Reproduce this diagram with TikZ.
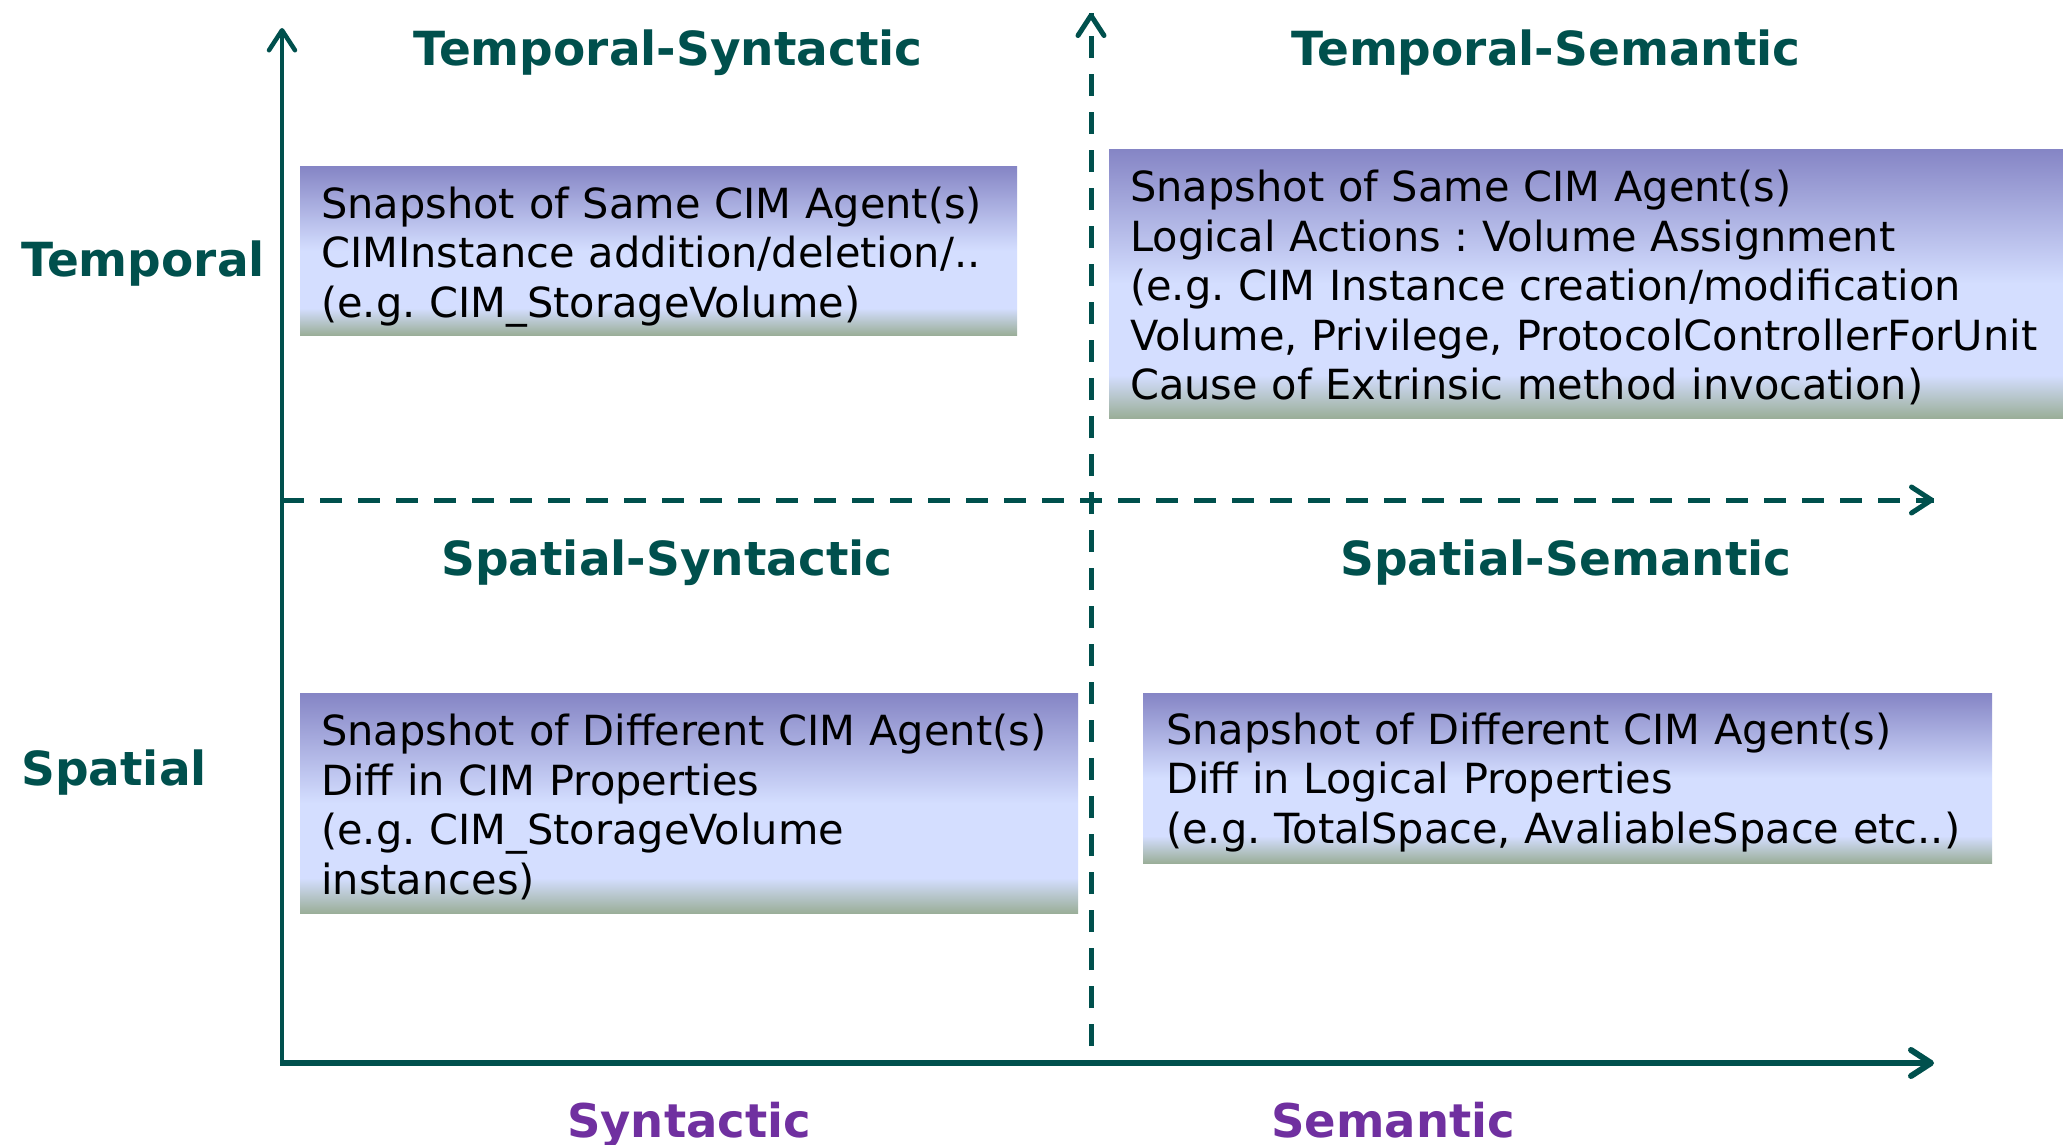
\documentclass[tikz,border=0pt]{standalone}
\usepackage{fontspec}
\setmainfont{DejaVu Sans}
\usetikzlibrary{arrows.meta,calc}
\frenchspacing
\definecolor{axisteal}{RGB}{0,80,77}
\definecolor{labpurple}{RGB}{112,48,160}
\definecolor{gtop}{RGB}{133,133,197}
\definecolor{glight}{RGB}{212,222,255}
\definecolor{gbot}{RGB}{154,174,152}
\pgfdeclareverticalshading{boxshade}{100bp}{color(0bp)=(gbot); color(25bp)=(gbot); color(33bp)=(glight); color(50bp)=(glight); color(75bp)=(gtop); color(100bp)=(gtop)}
\tikzset{
  qbox/.style={shading=boxshade, anchor=north west, inner sep=0pt},
  qtext/.style={inner sep=0pt, align=left, text=black, font=\fontsize{41.5}{49.5}\selectfont\frenchspacing},
  qhead/.style={text=axisteal, anchor=base, inner sep=0pt, font=\fontsize{47}{56}\selectfont\bfseries},
  axlab/.style={text=labpurple, anchor=base, inner sep=0pt, font=\fontsize{46.5}{56}\selectfont\bfseries},
  solidaxis/.style={draw=axisteal, line width=5pt, -{Straight Barb[length=20pt,width=26pt,round]}},
  dashaxis/.style={draw=axisteal, line width=5pt, dash pattern=on 22pt off 16pt},
  dashtip/.style={-{Straight Barb[length=20pt,width=26pt,round]}}
}
\begin{document}
\begin{tikzpicture}[x=1pt,y=-1pt]
\path[fill=white] (0,0) rectangle (2063,1145);
\useasboundingbox (0,0) rectangle (2063,1145);
% axis coordinates
\coordinate (O) at (282,1063);
\coordinate (Ytop) at (282,28);
\coordinate (Xend) at (1934,1063);
\coordinate (Vbot) at (1091,1046);
\coordinate (Vtop) at (1091,13);
\coordinate (Hleft) at (282,500);
\coordinate (Hend) at (1934,500);
% dashed axes
\draw[dashaxis] (Hleft) -- (Hend);
\draw[dashaxis] (Vbot) -- (Vtop);
\draw[draw=axisteal, line width=5pt, dashtip] ($(Hend)+(-2,0)$) -- (Hend);
\draw[draw=axisteal, line width=5pt, dashtip] ($(Vtop)+(0,2)$) -- (Vtop);
% solid axes
\draw[solidaxis, line width=4.5pt] (O) -- (Ytop);
\draw[solidaxis, line width=6pt] ([xshift=-2pt]O) -- (Xend);
% boxes
\node[qbox, minimum width=717pt, minimum height=169pt] (tl) at (300,166) {};
\node[qtext, text width=675pt] (tlt) at ($(tl.center)+(0,6)$)
  {Snapshot of Same CIM Agent(s)\\CIMInstance addition/deletion/..\\(e.g. CIM\_StorageVolume)};
\node[qbox, minimum width=954pt, minimum height=269pt] (tr) at (1109,149) {};
\node[qtext, text width=912pt] (trt) at ($(tr.center)+(0,4)$)
  {Snapshot of Same CIM Agent(s)\\Logical Actions : Volume Assignment\\(e.g. CIM Instance creation/modification\\Volume, Privilege, ProtocolControllerForUnit\\Cause of Extrinsic method invocation)};
\node[qbox, minimum width=778pt, minimum height=220pt] (bl) at (300,693) {};
\node[qtext, text width=736pt] (blt) at ($(bl.center)+(0,4)$)
  {Snapshot of Different CIM Agent(s)\\Diff in CIM Properties\\(e.g. CIM\_StorageVolume\\instances)};
\node[qbox, minimum width=849pt, minimum height=170pt] (br) at (1143,693) {};
\node[qtext, text width=803pt] (brt) at ($(br.center)+(0,4)$)
  {Snapshot of Different CIM Agent(s)\\Diff in Logical Properties\\(e.g. TotalSpace, AvaliableSpace etc..)};
% headers
\node[qhead] (hts) at (668,66) {Temporal-Syntactic};
\node[qhead] (htse) at (1546,66) {Temporal-Semantic};
\node[qhead] (hss) at (667,575) {Spatial-Syntactic};
\node[qhead] (hsse) at (1566,575) {Spatial-Semantic};
\node[qhead, anchor=base west] (ltemp) at (21,276) {Temporal};
\node[qhead, anchor=base west] (lspat) at (21,785) {Spatial};
\node[axlab] (lsyn) at (689,1137) {Syntactic};
\node[axlab] (lsem) at (1393,1137) {Semantic};
\end{tikzpicture}
\end{document}
